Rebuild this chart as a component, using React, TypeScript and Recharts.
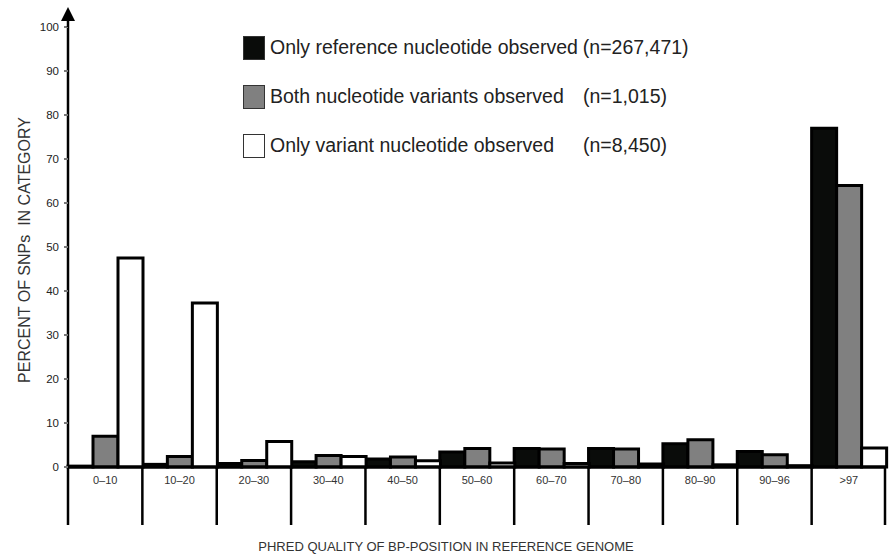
import { BarChart, Bar, XAxis, YAxis } from 'recharts';

// PHRED quality bins of the reference base position
const categories = ['0–10', '10–20', '20–30', '30–40', '40–50', '50–60', '60–70', '70–80', '80–90', '90–96', '>97'];

// percent of SNPs in each bin
const onlyReference = [0.2, 0.6, 0.8, 1.2, 1.8, 3.4, 4.2, 4.2, 5.3, 3.5, 77];
const bothVariants = [7.0, 2.4, 1.5, 2.6, 2.3, 4.2, 4.1, 4.1, 6.2, 2.8, 64];
const onlyVariant = [47.5, 37.3, 5.8, 2.4, 1.4, 0.9, 0.8, 0.7, 0.5, 0.3, 4.3];

const yTicks = [0, 10, 20, 30, 40, 50, 60, 70, 80, 90, 100];

const legendRows = [
  { label: 'Only reference nucleotide observed', n: '(n=267,471)', fill: '#0a0c0a', inline: true },
  { label: 'Both nucleotide variants observed', n: '(n=1,015)', fill: '#808080', inline: false },
  { label: 'Only variant nucleotide observed', n: '(n=8,450)', fill: '#ffffff', inline: false },
];

const data = categories.map((c, i) => ({
  category: c,
  onlyRef: onlyReference[i],
  both: bothVariants[i],
  onlyVar: onlyVariant[i],
}));

const W = 889;
const H = 554;
const TOP = 27;
const LEFT = 68;
const RIGHT = 3;
const BASE = 467;
const HALF = (W - LEFT - RIGHT) / categories.length / 2;

const font = '"Liberation Sans", Arial, sans-serif';

function CategoryTick(props: any) {
  const { x, payload, index } = props;
  const last = index === categories.length - 1;
  return (
    <g>
      <line x1={x - HALF} x2={x - HALF} y1={BASE} y2={BASE + 58} stroke="#000" strokeWidth={2.5} />
      {last && <line x1={x + HALF - 1} x2={x + HALF - 1} y1={BASE} y2={BASE + 58} stroke="#000" strokeWidth={2.5} />}
      <text x={x} y={BASE + 17} textAnchor="middle" fontSize={11} fill="#333" fontFamily={font}>
        {payload.value}
      </text>
    </g>
  );
}

function ValueTick(props: any) {
  const { y, payload } = props;
  return (
    <g>
      <line x1={LEFT - 4} x2={LEFT} y1={y} y2={y} stroke="#777" strokeWidth={2} />
      <text x={LEFT - 9} y={y + 4} textAnchor="end" fontSize={11.5} fill="#222" fontFamily={font}>
        {payload.value}
      </text>
      {payload.value === 100 && (
        <g>
          <line x1={LEFT} x2={LEFT} y1={y - 8} y2={y} stroke="#000" strokeWidth={2.5} />
          <polygon points={`${LEFT},${y - 20} ${LEFT - 7},${y - 6} ${LEFT + 7},${y - 6}`} fill="#000" />
        </g>
      )}
    </g>
  );
}

function LegendBox() {
  return (
    <div
      style={{
        position: 'absolute',
        top: 23,
        left: 243,
        fontFamily: font,
        fontSize: 19.5,
        color: '#222',
      }}
    >
      {legendRows.map((r) => (
        <div key={r.label} style={{ display: 'flex', alignItems: 'center', height: 49 }}>
          <span
            style={{
              width: 22,
              height: 24,
              background: r.fill,
              border: '1px solid #333',
              marginRight: 5,
              boxSizing: 'border-box',
            }}
          />
          <span style={{ whiteSpace: 'nowrap', width: r.inline ? 'auto' : 313 }}>{r.label}</span>
          <span style={{ whiteSpace: 'nowrap', marginLeft: r.inline ? 5 : 0 }}>{r.n}</span>
        </div>
      ))}
    </div>
  );
}

export default function App() {
  return (
    <div style={{ position: 'absolute', left: 0, top: 0, width: W, height: H, background: '#fff' }}>
      <BarChart
        width={W}
        height={H}
        data={data}
        margin={{ top: TOP, right: RIGHT, bottom: 0, left: 0 }}
        barCategoryGap={0}
        barGap={0}
      >
        <XAxis
          dataKey="category"
          height={H - BASE}
          axisLine={{ stroke: '#000', strokeWidth: 3 }}
          tickLine={false}
          tick={<CategoryTick />}
          interval={0}
        />
        <YAxis
          domain={[0, 100]}
          ticks={yTicks}
          width={LEFT}
          axisLine={{ stroke: '#000', strokeWidth: 2.5 }}
          tickLine={false}
          tick={<ValueTick />}
          interval={0}
        />
        <Bar dataKey="onlyRef" fill="#0a0c0a" stroke="#000" strokeWidth={3} isAnimationActive={false} />
        <Bar dataKey="both" fill="#808080" stroke="#000" strokeWidth={3} isAnimationActive={false} />
        <Bar dataKey="onlyVar" fill="#ffffff" stroke="#000" strokeWidth={3} isAnimationActive={false} />
      </BarChart>
      <LegendBox />
      <div
        style={{
          position: 'absolute',
          left: 25,
          top: 250,
          transform: 'translate(-50%, -50%) rotate(-90deg)',
          whiteSpace: 'pre',
          fontFamily: font,
          fontSize: 16,
          color: '#333',
        }}
      >
        {'PERCENT OF SNPs  IN CATEGORY'}
      </div>
      <div
        style={{
          position: 'absolute',
          left: 446,
          top: 546,
          transform: 'translate(-50%, -50%)',
          whiteSpace: 'nowrap',
          fontFamily: font,
          fontSize: 13,
          color: '#333',
        }}
      >
        PHRED QUALITY OF BP-POSITION IN REFERENCE GENOME
      </div>
    </div>
  );
}
